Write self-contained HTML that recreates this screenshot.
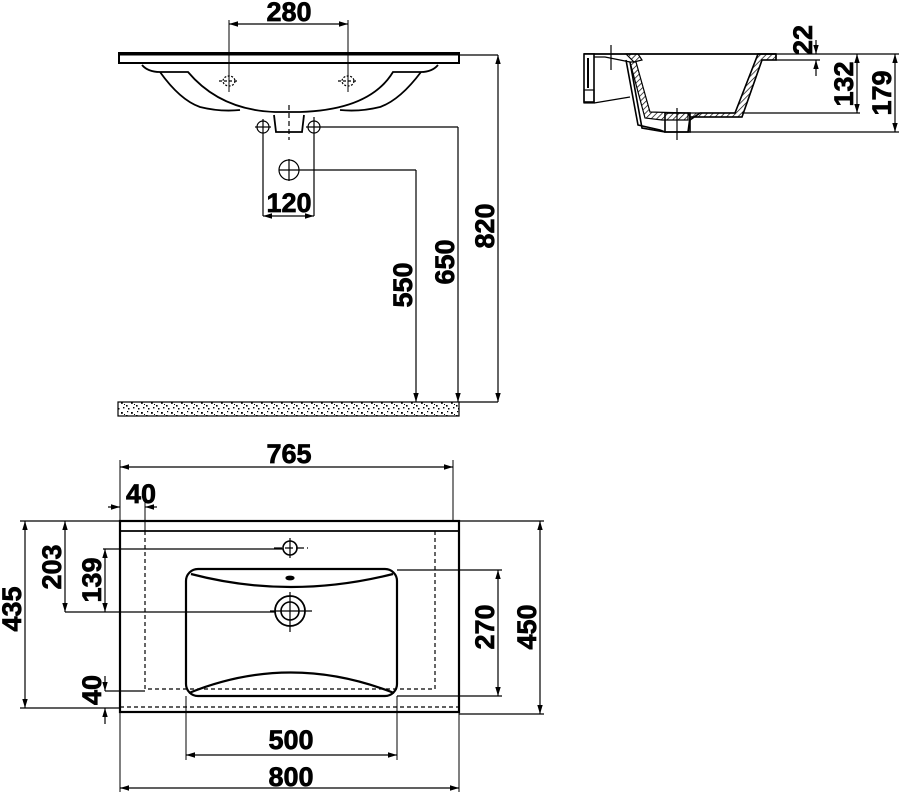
<!DOCTYPE html>
<html><head><meta charset="utf-8"><style>
html,body{margin:0;padding:0;background:#fff;}
svg{display:block}
text{font-family:"Liberation Sans Narrow","Liberation Sans",sans-serif;font-weight:bold;font-size:27px;fill:#000;stroke:#000;stroke-width:0.7;}
</style></head><body>
<svg width="899" height="795" viewBox="0 0 899 795" xmlns="http://www.w3.org/2000/svg">
<defs>
<marker id="a" viewBox="0 0 10 10" refX="10" refY="5" markerWidth="9" markerHeight="9" orient="auto-start-reverse" markerUnits="userSpaceOnUse"><path d="M0,2 L10,5 L0,8 Z" fill="#000"/></marker>
<pattern id="sp" width="10" height="10" patternUnits="userSpaceOnUse">
<rect x="1" y="2" width="1.8" height="1.8" fill="#000"/><rect x="6" y="5" width="1.6" height="1.6" fill="#000"/><rect x="3" y="7" width="1.4" height="1.4" fill="#000"/><rect x="8" y="8" width="1.5" height="1.5" fill="#000"/><rect x="7" y="1" width="1.2" height="1.2" fill="#000"/><rect x="4" y="4" width="1" height="1" fill="#000"/>
</pattern>
<pattern id="hatch" width="4" height="4" patternUnits="userSpaceOnUse" patternTransform="rotate(45)"><line x1="0" y1="0" x2="0" y2="4" stroke="#000" stroke-width="1.4"/></pattern>
</defs>
<g fill="none" stroke="#000" stroke-width="1.2">
<!-- top front view -->
<rect x="119" y="53" width="340" height="10" stroke-width="2"/>
<line x1="119" y1="54" x2="459" y2="54" stroke-width="3"/>
<path d="M142,65 Q148,72 160,72 L188,72 Q220,110 275,112 L300,112 Q370,110 393,72 L421,72 Q432,72 438,65" stroke-width="1.8"/>
<path d="M160,72 Q180,100 200,107 Q220,112 240,110" stroke-width="1.8"/>
<path d="M421,72 Q400,100 380,107 Q360,112 340,110" stroke-width="1.8"/>
<path d="M274,115 L276,132 L302,132 L304,115" stroke-width="1.8"/>
<line x1="289" y1="105" x2="289" y2="140" stroke-dasharray="5,3"/>
<ellipse cx="229" cy="81" rx="6" ry="5" stroke-dasharray="2,1.5"/>
<ellipse cx="348" cy="81" rx="6" ry="5" stroke-dasharray="2,1.5"/>
<line x1="219" y1="81" x2="239" y2="81" stroke-dasharray="3,2"/><line x1="338" y1="81" x2="358" y2="81" stroke-dasharray="3,2"/>
<circle cx="263" cy="127" r="6"/><circle cx="314" cy="127" r="6"/>
<line x1="255" y1="127" x2="271" y2="127"/><line x1="263" y1="119" x2="263" y2="216"/>
<line x1="314" y1="117" x2="314" y2="216"/>
<line x1="306" y1="127" x2="458" y2="127"/>
<circle cx="289" cy="170" r="10"/><line x1="279" y1="170" x2="416" y2="170"/><line x1="289" y1="159" x2="289" y2="181"/>
<line x1="229" y1="20" x2="229" y2="92" stroke-width="1"/><line x1="348" y1="20" x2="348" y2="92" stroke-width="1"/>
<line x1="229" y1="24" x2="348" y2="24" marker-start="url(#a)" marker-end="url(#a)"/>
<line x1="263" y1="216" x2="314" y2="216" marker-start="url(#a)" marker-end="url(#a)"/>
<line x1="416" y1="170" x2="416" y2="402" marker-end="url(#a)"/>
<line x1="458" y1="127" x2="458" y2="402" marker-end="url(#a)"/>
<line x1="459" y1="55" x2="498" y2="55"/>
<line x1="498" y1="55" x2="498" y2="402" marker-start="url(#a)" marker-end="url(#a)"/>
<line x1="459" y1="402" x2="498" y2="402"/>
<rect x="118" y="402" width="341" height="14" fill="url(#sp)"/>
<!-- side view -->
<line x1="584" y1="54" x2="776" y2="54" stroke-width="1.8"/>
<rect x="584" y="54" width="10" height="48" fill="#fff" stroke-width="1.6"/>
<rect x="584" y="90" width="10" height="13"/>
<line x1="588" y1="58" x2="588" y2="88" stroke-width="2"/>
<line x1="594" y1="103" x2="630" y2="97"/>
<path d="M594,57 L605,57 L620,60 L630,62" />
<path d="M626,54 L638,54 L642,60 L634,62 Z" fill="url(#hatch)"/>
<path d="M626,60 L638,125 L660,130 L665,132 L688,132 L690,120 L700,113 L735,113 L758,54 L776,54 L776,60 L762,60 L742,117 L690,117 L688,132" stroke-width="1.6"/>
<path d="M630,62 L642,128 L665,132" fill="none" stroke-width="1.6"/>
<path d="M630,62 L636,62 L650,112 L688,113 L688,120 L662,120 L645,118 Z" fill="url(#hatch)"/>
<path d="M758,54 L776,54 L776,60 L762,60 L742,117 L690,117 L688,113 L735,113 Z" fill="url(#hatch)"/>
<rect x="665" y="113" width="25" height="19" stroke-width="1.6"/>
<line x1="611" y1="45" x2="611" y2="70"/><line x1="677" y1="108" x2="677" y2="140"/>
<line x1="776" y1="60" x2="820" y2="60"/>
<line x1="776" y1="54" x2="900" y2="54"/>
<line x1="742" y1="113" x2="860" y2="113"/>
<line x1="690" y1="132" x2="899" y2="132"/>
<line x1="816" y1="40" x2="816" y2="54" marker-end="url(#a)"/>
<line x1="816" y1="76" x2="816" y2="60" marker-end="url(#a)"/>
<line x1="857" y1="54" x2="857" y2="113" marker-start="url(#a)" marker-end="url(#a)"/>
<line x1="895" y1="54" x2="895" y2="132" marker-start="url(#a)" marker-end="url(#a)"/>
<!-- plan view -->
<rect x="120" y="521" width="339" height="191" stroke-width="2.2"/>
<line x1="120" y1="531" x2="459" y2="531" stroke-width="1.8"/>
<path d="M145,531 L145,689 L435,689 L435,531" stroke-dasharray="4,3"/>
<path d="M120,707 L459,707" stroke-dasharray="4,3"/>
<rect x="186" y="569" width="211" height="127" rx="12" stroke-width="2.2"/>
<path d="M191,574 Q290,600 393,574" stroke-width="2.2"/>
<path d="M189,693 Q290,652 394,693" stroke-width="2.2"/>
<ellipse cx="290" cy="578" rx="4" ry="1.8" fill="#000"/>
<circle cx="290" cy="548" r="7" stroke-width="1.6"/><line x1="274" y1="548" x2="308" y2="548" stroke-dasharray="8,3"/><line x1="290" y1="538" x2="290" y2="558"/>
<circle cx="290" cy="611" r="15" stroke-width="1.8"/><circle cx="290" cy="611" r="9" stroke-width="1.6"/><line x1="270" y1="611" x2="312" y2="611"/><line x1="290" y1="592" x2="290" y2="632"/>
<line x1="120" y1="460" x2="120" y2="521" stroke-width="1"/>
<line x1="453" y1="460" x2="453" y2="521" stroke-width="1"/>
<line x1="120" y1="467" x2="453" y2="467" marker-start="url(#a)" marker-end="url(#a)"/>
<line x1="145" y1="502" x2="145" y2="531" stroke-width="1"/>
<line x1="108" y1="507" x2="120" y2="507" marker-end="url(#a)"/>
<line x1="157" y1="507" x2="145" y2="507" marker-end="url(#a)"/>
<line x1="20" y1="521" x2="120" y2="521"/><line x1="20" y1="708" x2="120" y2="708"/>
<line x1="25" y1="521" x2="25" y2="708" marker-start="url(#a)" marker-end="url(#a)"/>
<line x1="65" y1="521" x2="65" y2="612" marker-start="url(#a)" marker-end="url(#a)"/>
<line x1="65" y1="612" x2="275" y2="612"/>
<line x1="103" y1="549" x2="283" y2="549"/>
<line x1="105" y1="549" x2="105" y2="612" marker-start="url(#a)" marker-end="url(#a)"/>
<line x1="105" y1="691" x2="145" y2="691"/>
<line x1="105" y1="676" x2="105" y2="691" marker-end="url(#a)"/>
<line x1="105" y1="724" x2="105" y2="708" marker-end="url(#a)"/>
<line x1="397" y1="570" x2="502" y2="570"/><line x1="397" y1="696" x2="502" y2="696"/>
<line x1="498" y1="570" x2="498" y2="696" marker-start="url(#a)" marker-end="url(#a)"/>
<line x1="459" y1="521" x2="544" y2="521"/><line x1="459" y1="714" x2="544" y2="714"/>
<line x1="540" y1="521" x2="540" y2="714" marker-start="url(#a)" marker-end="url(#a)"/>
<line x1="186" y1="696" x2="186" y2="760" stroke-width="1"/><line x1="397" y1="696" x2="397" y2="760" stroke-width="1"/>
<line x1="186" y1="755" x2="397" y2="755" marker-start="url(#a)" marker-end="url(#a)"/>
<line x1="120" y1="712" x2="120" y2="792" stroke-width="1"/><line x1="459" y1="712" x2="459" y2="792" stroke-width="1"/>
<line x1="120" y1="788" x2="459" y2="788" marker-start="url(#a)" marker-end="url(#a)"/>
</g>
<g text-anchor="middle">
<text x="289" y="21">280</text>
<text x="289" y="212">120</text>
<text transform="translate(412,285) rotate(-90)">550</text>
<text transform="translate(454,262) rotate(-90)">650</text>
<text transform="translate(494,226) rotate(-90)">820</text>
<text transform="translate(812,40) rotate(-90)">22</text>
<text transform="translate(853,84) rotate(-90)">132</text>
<text transform="translate(891,93) rotate(-90)">179</text>
<text x="289" y="463">765</text>
<text x="141" y="503">40</text>
<text transform="translate(21,609) rotate(-90)">435</text>
<text transform="translate(61,567) rotate(-90)">203</text>
<text transform="translate(101,580) rotate(-90)">139</text>
<text transform="translate(101,690) rotate(-90)">40</text>
<text transform="translate(494,627) rotate(-90)">270</text>
<text transform="translate(536,627) rotate(-90)">450</text>
<text x="291" y="749">500</text>
<text x="291" y="786">800</text>
</g>
</svg>
</body></html>
